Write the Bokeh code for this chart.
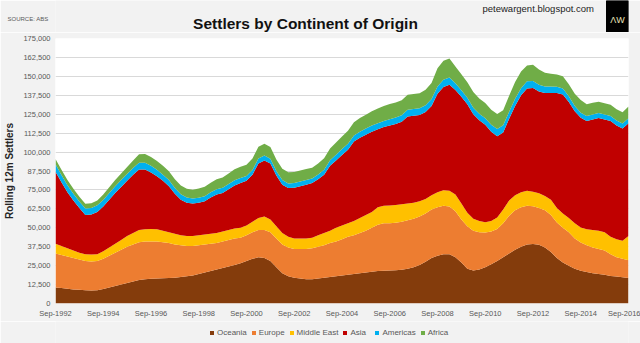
from bokeh.plotting import figure
from bokeh.layouts import column
from bokeh.models import (ColumnDataSource, FixedTicker, NumeralTickFormatter, LinearAxis,
                          Legend, LegendItem, Label, Range1d)
from bokeh.embed import file_html
from bokeh.resources import INLINE

# ---------------- data (thousands of settlers, rolling 12m, quarterly Sep-1992 .. Sep-2016)
oceania = [10.5, 10.2, 9.8, 9.3, 9.0, 8.7, 8.6, 8.8, 9.5, 10.5, 11.5, 12.5, 13.5, 14.5, 15.5, 16.0, 16.3,
           16.5, 16.6, 16.8, 17.0, 17.5, 18.0, 18.5, 19.5, 20.5, 21.5, 22.5, 23.5, 24.5, 25.5, 26.5, 28.0,
           29.5, 30.5, 30.0, 28.0, 24.0, 20.0, 18.0, 17.0, 16.5, 16.0, 16.0, 16.5, 17.0, 17.5, 18.0, 18.5,
           19.0, 19.5, 20.0, 20.5, 21.0, 21.5, 21.7, 21.8, 22.0, 22.3, 23.0, 24.0, 25.5, 27.5, 30.0, 31.5,
           32.5, 32.5, 30.5, 27.0, 23.0, 21.8, 22.5, 24.0, 26.0, 28.0, 30.5, 33.0, 35.5, 37.5, 39.0, 39.3,
           38.8, 37.0, 34.0, 30.0, 27.0, 25.0, 23.0, 21.7, 20.8, 20.0, 19.5, 19.0, 18.2, 17.8, 17.3, 16.8]
europe = [22.5, 21.8, 21.2, 20.7, 20.0, 19.3, 19.2, 19.2, 20.0, 21.0, 22.0, 23.0, 24.0, 24.5, 25.0, 25.0, 24.7,
          24.5, 23.9, 23.2, 22.0, 21.0, 20.0, 19.5, 19.0, 18.5, 18.0, 17.5, 17.5, 17.5, 17.5, 17.0, 17.0,
          17.5, 18.0, 18.5, 19.0, 19.0, 19.0, 19.0, 19.0, 19.5, 20.0, 20.5, 21.0, 21.5, 22.5, 23.0, 24.0,
          25.0, 25.5, 26.5, 27.5, 29.0, 30.5, 31.3, 31.2, 31.3, 31.7, 32.0, 32.0, 32.0, 32.0, 32.0, 32.0,
          32.0, 31.5, 30.5, 28.5, 28.0, 26.2, 24.5, 22.9, 21.5, 21.2, 22.5, 25.0, 26.0, 26.0, 25.5, 25.0,
          24.2, 24.5, 24.5, 23.5, 23.0, 22.0, 20.0, 18.6, 17.7, 17.0, 16.5, 16.0, 14.3, 12.7, 12.2, 11.7]
middle_east = [6.5, 6.0, 5.5, 5.0, 4.5, 4.5, 4.5, 4.5, 5.0, 5.5, 6.0, 6.5, 7.0, 7.5, 8.0, 8.0, 8.2,
               8.0, 7.5, 7.0, 7.0, 6.5, 6.5, 6.5, 6.5, 6.5, 6.5, 6.5, 6.5, 6.5, 6.5, 6.5, 6.5,
               7.0, 8.0, 9.0, 8.5, 8.0, 7.5, 7.0, 7.0, 7.0, 7.0, 7.0, 7.5, 8.0, 8.0, 9.0, 9.0,
               9.0, 9.5, 10.0, 10.5, 10.5, 11.5, 11.5, 11.7, 11.7, 11.5, 11.0, 10.5, 10.0, 9.5, 9.5, 10.0,
               10.3, 10.5, 11.0, 10.5, 9.0, 8.0, 7.5, 6.8, 7.0, 7.6, 9.0, 10.0, 10.0, 10.0, 9.9, 9.5,
               9.8, 9.5, 10.0, 9.5, 9.5, 9.5, 10.0, 9.9, 10.5, 11.5, 12.0, 12.0, 11.5, 12.0, 12.0, 16.0]
asia = [47.5, 42.0, 37.0, 33.0, 29.5, 26.0, 26.5, 28.0, 29.5, 31.5, 33.5, 35.0, 36.5, 38.5, 40.0, 39.5, 37.3,
        35.0, 33.0, 30.5, 26.5, 23.5, 22.0, 21.5, 21.5, 22.0, 24.0, 25.5, 25.5, 27.0, 28.5, 29.5, 29.5,
        31.0, 36.0, 37.0, 37.0, 33.5, 32.0, 32.3, 33.5, 34.5, 35.5, 36.0, 37.0, 38.5, 43.0, 44.5, 46.5,
        48.5, 52.5, 53.0, 53.0, 53.0, 51.5, 52.0, 52.8, 53.5, 54.5, 57.5, 57.5, 57.0, 57.5, 59.0, 65.0,
        68.2, 70.0, 69.0, 70.5, 71.5, 69.0, 66.5, 64.3, 59.0, 53.7, 51.0, 54.0, 59.0, 64.0, 67.6, 68.5,
        67.2, 68.0, 70.5, 76.0, 78.5, 76.5, 74.0, 72.4, 71.5, 73.0, 74.5, 74.5, 76.5, 75.0, 74.0, 74.5]
americas = [5.0, 4.8, 4.6, 4.5, 4.3, 4.2, 4.2, 4.3, 4.4, 4.5, 4.5, 4.5, 4.5, 4.5, 4.5, 4.5, 4.4,
            4.3, 4.1, 4.0, 3.8, 3.6, 3.5, 3.4, 3.4, 3.4, 3.4, 3.4, 3.4, 3.4, 3.4, 3.4, 3.2,
            3.2, 3.2, 3.2, 3.1, 3.0, 3.0, 3.0, 3.0, 3.0, 3.0, 3.0, 3.2, 3.4, 3.6, 3.8, 4.0,
            4.0, 4.0, 4.0, 4.0, 4.0, 4.0, 4.0, 4.2, 4.3, 4.3, 4.4, 4.4, 4.4, 4.5, 4.6, 4.8,
            4.8, 4.8, 4.5, 4.4, 4.3, 4.3, 4.3, 4.4, 4.5, 4.7, 4.7, 4.7, 4.7, 4.7, 4.7, 4.6,
            4.5, 4.3, 4.3, 4.2, 4.0, 3.8, 3.5, 3.3, 3.3, 3.3, 3.3, 3.3, 3.3, 3.3, 3.3, 3.3]
africa = [3.5, 3.5, 3.4, 3.3, 3.2, 3.2, 3.2, 3.3, 3.5, 3.8, 4.0, 4.3, 4.6, 5.0, 5.5, 5.7, 5.8,
          5.8, 5.8, 5.8, 5.8, 5.8, 5.8, 5.8, 6.0, 6.2, 6.4, 6.6, 6.8, 7.0, 7.2, 7.4, 7.5,
          7.6, 7.8, 7.8, 7.8, 7.6, 7.5, 7.4, 7.3, 7.3, 7.3, 7.2, 7.3, 7.5, 7.8, 8.0, 8.3,
          8.5, 8.7, 9.0, 9.2, 9.5, 9.8, 10.0, 10.0, 10.0, 10.0, 10.0, 10.0, 10.0, 10.2, 10.5, 12.0,
          12.5, 12.5, 11.0, 10.5, 10.3, 10.3, 10.0, 10.0, 10.0, 10.0, 10.0, 10.5, 11.0, 11.0, 10.5, 10.8,
          10.0, 9.0, 8.5, 8.0, 8.0, 8.0, 8.0, 8.5, 7.8, 7.8, 7.5, 7.5, 7.5, 7.5, 7.5, 7.8]

series_names = ["Oceania", "Europe", "Middle East", "Asia", "Americas", "Africa"]
series_values = [oceania, europe, middle_east, asia, americas, africa]
series_colors = ["#843C0C", "#ED7D31", "#FFC000", "#C00000", "#00B0F0", "#70AD47"]
tick_labels = ["Sep-1992", "Sep-1994", "Sep-1996", "Sep-1998", "Sep-2000", "Sep-2002", "Sep-2004",
               "Sep-2006", "Sep-2008", "Sep-2010", "Sep-2012", "Sep-2014", "Sep-2016"]
title_text = "Settlers by Continent of Origin"
source_text = "SOURCE: ABS"
url_text = "petewargent.blogspot.com"
logo_text = "ΛW"
y_title = "Rolling 12m Settlers"

FONT = "Liberation Sans"
BG = "#F2F2F2"
W = 640
LEFT, RIGHT = 55, 12          # border widths shared by all stacked figures


def bare(height, xr, yr):
    f = figure(width=W, height=height, output_backend="svg", toolbar_location=None,
               x_range=xr, y_range=yr, x_axis_location=None, y_axis_location=None,
               min_border_left=LEFT, min_border_right=RIGHT, min_border_top=0, min_border_bottom=0)
    f.border_fill_color = BG
    f.background_fill_color = BG
    f.outline_line_color = None
    f.grid.visible = False
    return f


def quiet_axis(ax, size):
    ax.axis_line_color = None
    ax.major_tick_line_color = None
    ax.minor_tick_line_color = None
    ax.major_tick_out = 0
    ax.major_tick_in = 0
    ax.minor_tick_out = 0
    ax.major_label_text_font = FONT
    ax.major_label_text_font_size = size
    ax.major_label_text_color = "#595959"


# ---------------- header (x in page pixels, y downwards)
head = bare(32, Range1d(LEFT, W - RIGHT), Range1d(32, 0))
head.add_layout(Label(x=305, y=23, text=title_text, text_align="center", text_baseline="middle",
                      text_font=FONT, text_font_size="15.5px", text_font_style="bold",
                      text_color="#111111"))
head.add_layout(Label(x=482, y=8, text=url_text, text_align="left", text_baseline="middle",
                      text_font=FONT, text_font_size="9.5px", text_color="#222222"))
head.quad(left=[606], right=[628], top=[0], bottom=[32], color="#000000")
head.add_layout(Label(x=617, y=19, text=logo_text, text_align="center", text_baseline="middle",
                      text_font=FONT, text_font_size="9px", text_color="#E8E4B8"))
src_axis = LinearAxis(ticker=FixedTicker(ticks=[18]), major_label_overrides={18: source_text},
                      major_label_standoff=7)
quiet_axis(src_axis, "6px")
head.add_layout(src_axis, "left")

# ---------------- main chart
n = len(oceania)
data = {"x": list(range(n))}
for name, vals in zip(series_names, series_values):
    data[name] = [v * 1000 for v in vals]
src = ColumnDataSource(data)

p = figure(width=W, height=289, output_backend="svg", toolbar_location=None,
           x_range=Range1d(0, n - 1), y_range=Range1d(0, 175000),
           min_border_left=LEFT, min_border_right=RIGHT, min_border_top=6, min_border_bottom=18)
p.border_fill_color = BG
p.background_fill_color = "#FFFFFF"
p.outline_line_color = None

p.varea_stack(stackers=series_names, x="x", color=series_colors, source=src)

step = (n - 1) // (len(tick_labels) - 1)
xt = [i * step for i in range(len(tick_labels))]
p.xaxis.ticker = FixedTicker(ticks=xt)
p.xaxis.major_label_overrides = {t: lab for t, lab in zip(xt, tick_labels)}
p.yaxis.ticker = FixedTicker(ticks=list(range(0, 175001, 12500)))
p.yaxis.formatter = NumeralTickFormatter(format="0,0")
quiet_axis(p.xaxis[0], "7.5px")
quiet_axis(p.yaxis[0], "7.5px")
p.xaxis.major_label_standoff = 5
p.yaxis.major_label_standoff = 5
p.yaxis.axis_label = y_title
p.yaxis.axis_label_text_font = FONT
p.yaxis.axis_label_text_font_size = "10px"
p.yaxis.axis_label_text_font_style = "bold"
p.yaxis.axis_label_text_color = "#262626"
p.yaxis.axis_label_standoff = 5
p.xgrid.grid_line_color = None
p.ygrid.grid_line_color = "#D9D9D9"
p.ygrid.ticker = FixedTicker(ticks=list(range(12500, 175001, 12500)))

# ---------------- legend strip (series stacked out of view, only the legend shows)
leg = bare(22, Range1d(0, n - 1), Range1d(-2, -1))
leg_r = leg.varea_stack(stackers=series_names, x="x", color=series_colors, source=src)
legend = Legend(items=[LegendItem(label=nm, renderers=[r]) for nm, r in zip(series_names, leg_r)],
                orientation="horizontal", location=(154, 6),
                glyph_width=5, glyph_height=5, label_height=8, label_standoff=3, spacing=4,
                padding=0, margin=0, border_line_color=None, background_fill_alpha=0,
                label_text_font=FONT, label_text_font_size="8px", label_text_color="#595959")
leg.add_layout(legend)

layout = column(head, p, leg, spacing=0)
open("out.html", "w").write(file_html(layout, INLINE))
